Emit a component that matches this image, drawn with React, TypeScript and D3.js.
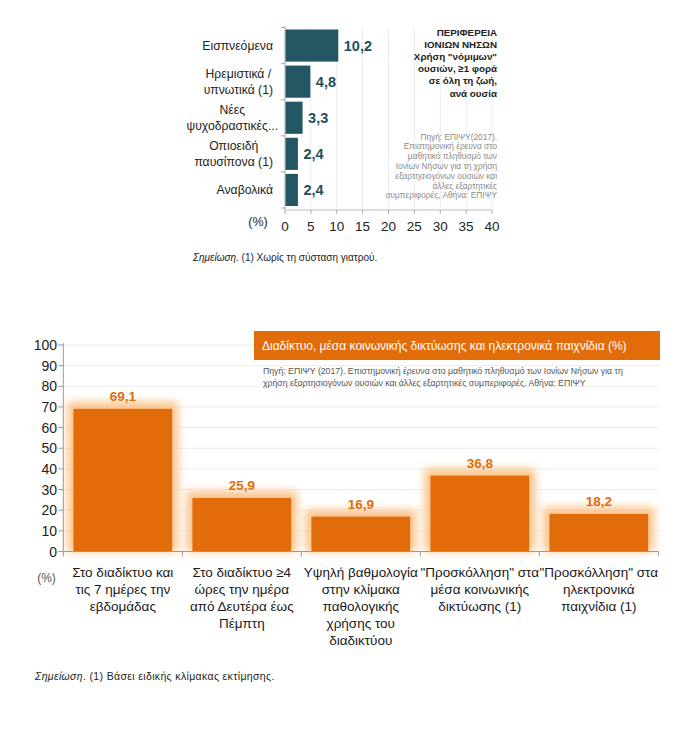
import React from "react";
import * as d3 from "d3";

// ---------- Top chart data ----------
const substanceCats = [
  ["Εισπνεόμενα"],
  ["Ηρεμιστικά /", "υπνωτικά (1)"],
  ["Νέες", "ψυχοδραστικές..."],
  ["Οπιοειδή", "παυσίπονα (1)"],
  ["Αναβολικά"],
];
const substanceValues = [10.2, 4.8, 3.3, 2.4, 2.4];
const substanceTicks = [0, 5, 10, 15, 20, 25, 30, 35, 40];
const topTitleLines = [
  "ΠΕΡΙΦΕΡΕΙΑ",
  "ΙΟΝΙΩΝ  ΝΗΣΩΝ",
  "Χρήση \"νόμιμων\"",
  "ουσιών, ≥1 φορά",
  "σε όλη τη ζωή,",
  "ανά ουσία",
];
const topSourceLines = [
  "Πηγή: ΕΠΙΨΥ(2017).",
  "Επιστημονική έρευνα στο",
  "μαθητικό πληθυσμό των",
  "Ιονίων Νήσων για τη χρήση",
  "εξαρτησιογόνων ουσιών και",
  "άλλες εξαρτητικές",
  "συμπεριφορές, Αθήνα: ΕΠΙΨΥ",
];

// ---------- Bottom chart data ----------
const internetCats = [
  ["Στο διαδίκτυο και", "τις 7 ημέρες την", "εβδομάδας"],
  ["Στο διαδίκτυο ≥4", "ώρες την ημέρα", "από Δευτέρα έως", "Πέμπτη"],
  ["Υψηλή βαθμολογία", "στην κλίμακα", "παθολογικής", "χρήσης του", "διαδικτύου"],
  ["\"Προσκόλληση\"  στα", "μέσα κοινωνικής", "δικτύωσης (1)"],
  ["\"Προσκόλληση\"  στα", "ηλεκτρονικά", "παιχνίδια (1)"],
];
const internetValues = [69.1, 25.9, 16.9, 36.8, 18.2];
const internetTicks = [0, 10, 20, 30, 40, 50, 60, 70, 80, 90, 100];
const bottomTitle = "Διαδίκτυο, μέσα κοινωνικής δικτύωσης και ηλεκτρονικά παιχνίδια (%)";
const bottomSourceLines = [
  "Πηγή: ΕΠΙΨΥ (2017). Επιστημονική έρευνα στο μαθητικό πληθυσμό των Ιονίων Νήσων για τη",
  "χρήση εξαρτησιογόνων ουσιών και άλλες εξαρτητικές συμπεριφορές. Αθήνα: ΕΠΙΨΥ",
];

const FONT = "'Liberation Sans', Arial, sans-serif";
const fmt = (v: number) => v.toFixed(1).replace(".", ",");

let ctx: CanvasRenderingContext2D | null = null;
function measure(text: string, size: number) {
  if (!ctx) {
    const c = document.createElement("canvas");
    ctx = c.getContext("2d");
  }
  if (!ctx) return text.length * size * 0.5;
  ctx.font = `${size}px 'Liberation Sans', Arial, sans-serif`;
  return ctx.measureText(text).width;
}

function TopChart() {
  const x = d3.scaleLinear().domain([0, 40]).range([285, 492]);
  const y = d3
    .scaleBand<number>()
    .domain(d3.range(substanceValues.length))
    .range([27.5, 208])
    .paddingInner(0.11)
    .paddingOuter(0.055);
  const axisY = 210;
  const labelSize = 12.2;
  return (
    <g fontFamily={FONT}>
      {substanceTicks.map((t) => (
        <g key={t}>
          {t > 0 && (
            <line x1={x(t)} x2={x(t)} y1={27} y2={axisY} stroke="#ececec" strokeWidth={1} />
          )}
          <line x1={x(t)} x2={x(t)} y1={axisY} y2={axisY + 4} stroke="#aaa" />
          <text x={x(t)} y={axisY + 21} textAnchor="middle" fontSize={13.5} fill="#222">
            {t}
          </text>
        </g>
      ))}
      <line x1={x(0)} x2={x(40)} y1={axisY} y2={axisY} stroke="#bbb" />
      <line x1={x(0)} x2={x(0)} y1={26} y2={axisY} stroke="#aaa" />
      {d3.range(substanceValues.length + 1).map((i) => {
        const yy = i < substanceValues.length ? (y(i) as number) - (y.step() * y.paddingInner()) / 2 : 208;
        return <line key={i} x1={x(0) - 4} x2={x(0)} y1={yy} y2={yy} stroke="#aaa" />;
      })}
      {substanceValues.map((v, i) => {
        const by = y(i) as number;
        const cy = by + y.bandwidth() / 2;
        const lines = substanceCats[i];
        const maxW = d3.max(lines, (l) => measure(l.replace("...", ""), labelSize)) as number;
        const cx = 273 - maxW / 2;
        return (
          <g key={i}>
            <rect x={x(0) + 0.5} y={by} width={x(v) - x(0)} height={y.bandwidth()} fill="#245764" />
            <text x={x(v) + 6} y={cy + 5} fontSize={14.5} fontWeight="bold" fill="#1f4f5d">
              {fmt(v)}
            </text>
            {lines.map((l, j) => (
              <text
                key={j}
                x={lines.length > 1 ? cx : 273}
                y={cy + 4.5 + (j - (lines.length - 1) / 2) * 16}
                textAnchor={lines.length > 1 ? "middle" : "end"}
                fontSize={labelSize}
                fill="#222"
              >
                {l}
              </text>
            ))}
          </g>
        );
      })}
      <text x={258} y={226} textAnchor="middle" fontSize={12.5} fill="#222">
        (%)
      </text>
      {topTitleLines.map((l, i) => (
        <text key={i} x={497} y={35.5 + i * 12.2} textAnchor="end" fontSize={9.8} fontWeight="bold" fill="#222">
          {l}
        </text>
      ))}
      {topSourceLines.map((l, i) => (
        <text key={i} x={497} y={139.5 + i * 9.8} textAnchor="end" fontSize={8.3} fill="#8a8a8a">
          {l}
        </text>
      ))}
      <text x={193} y={260.5} fontSize={10} fill="#222">
        <tspan fontStyle="italic">Σημείωση</tspan>. (1) Χωρίς τη σύσταση γιατρού.
      </text>
    </g>
  );
}

function BottomChart() {
  const left = 63.3;
  const right = 658.3;
  const y = d3.scaleLinear().domain([0, 100]).range([551.5, 345]);
  const x = d3
    .scaleBand<number>()
    .domain(d3.range(internetValues.length))
    .range([left, right])
    .paddingInner(0.17)
    .paddingOuter(0.085);
  const step = x.step();
  return (
    <g fontFamily={FONT}>
      <defs>
        <filter id="glow" x="-30%" y="-30%" width="160%" height="160%">
          <feGaussianBlur stdDeviation="4.5" />
        </filter>
      </defs>
      {internetTicks.map((t) => (
        <g key={t}>
          {t > 0 && <line x1={left} x2={right} y1={y(t)} y2={y(t)} stroke="#ececec" />}
          <line x1={left - 5} x2={left} y1={y(t)} y2={y(t)} stroke="#999" />
          <text x={57} y={y(t) + 5} textAnchor="end" fontSize={14} fill="#222">
            {t}
          </text>
        </g>
      ))}
      {/* title box */}
      <rect x={254} y={331} width={406} height={29} fill="#E36C0A" />
      <text x={262} y={350} fontSize={12} fill="#fff">
        {bottomTitle}
      </text>
      {bottomSourceLines.map((l, i) => (
        <text key={i} x={263} y={374 + i * 11.5} fontSize={8.7} fill="#555">
          {l}
        </text>
      ))}
      {internetValues.map((v, i) => {
        const bx = x(i) as number;
        const w = x.bandwidth();
        const top = y(v);
        const h = y(0) - top;
        return (
          <g key={i}>
            <rect
              x={bx - 6}
              y={top - 7}
              width={w + 12}
              height={h + 7}
              fill="#FBC48C"
              filter="url(#glow)"
            />
            <rect x={bx} y={top} width={w} height={h} fill="#E36C0A" />
            <text x={bx + w / 2} y={top - 8} textAnchor="middle" fontSize={13.5} fontWeight="bold" fill="#E36C0A">
              {fmt(v)}
            </text>
          </g>
        );
      })}
      <line x1={left} x2={left} y1={343} y2={y(0)} stroke="#999" />
      <line x1={left} x2={right} y1={y(0)} y2={y(0)} stroke="#999" />
      {d3.range(internetValues.length + 1).map((i) => {
        const xx = left + i * step;
        return <line key={i} x1={xx} x2={xx} y1={y(0)} y2={y(0) + 5} stroke="#999" />;
      })}
      {internetCats.map((lines, i) => {
        const cx = (x(i) as number) + x.bandwidth() / 2;
        return lines.map((l, j) => (
          <text key={i + "-" + j} x={cx} y={576.5 + j * 17.2} textAnchor="middle" fontSize={13.5} fill="#1a1a1a">
            {l}
          </text>
        ));
      })}
      <text x={46.5} y={581.5} textAnchor="middle" fontSize={12} fill="#555">
        (%)
      </text>
      <text x={35} y={680} fontSize={10.5} letterSpacing={0.35} fill="#222">
        <tspan fontStyle="italic">Σημείωση</tspan>. (1) Βάσει ειδικής κλίμακας εκτίμησης.
      </text>
    </g>
  );
}

export default function App() {
  return (
    <svg
      width={687}
      height={737}
      viewBox="0 0 687 737"
      style={{ position: "absolute", left: 0, top: 0, background: "#fff" }}
    >
      <rect width={687} height={737} fill="#fff" />
      <TopChart />
      <BottomChart />
    </svg>
  );
}
